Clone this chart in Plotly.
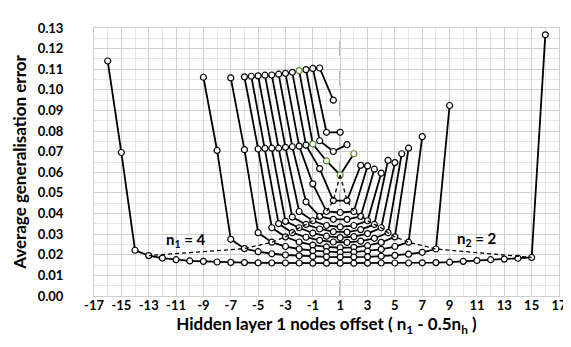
import plotly.graph_objects as go

# Total hidden nodes (nh) for each curve; n1 runs 1..nh-1, x = n1 - 0.5*nh
NH = [3, 4, 5, 6, 7, 8, 9, 10, 11, 12, 13, 14, 16, 20, 34]

ERR = {
    3: [0.1106, 0.0950],
    4: [0.1104, 0.0794, 0.0794],
    5: [0.1098, 0.0753, 0.0701, 0.0734],
    6: [0.1093, 0.0737, 0.0655, 0.0587, 0.0690],
    7: [0.1085, 0.0732, 0.0618, 0.0463, 0.0463, 0.0634],
    8: [0.1080, 0.0727, 0.0544, 0.0410, 0.0405, 0.0410, 0.0631],
    9: [0.1076, 0.0724, 0.0457, 0.0386, 0.0372, 0.0372, 0.0386, 0.0615],
    10: [0.1072, 0.0721, 0.0410, 0.0365, 0.0342, 0.0335, 0.0342, 0.0365, 0.0596],
    11: [0.1071, 0.0717, 0.0383, 0.0347, 0.0325, 0.0312, 0.0310, 0.0322, 0.0347, 0.0658],
    12: [0.1068, 0.0717, 0.0362, 0.0331, 0.0305, 0.0290, 0.0283, 0.0288, 0.0303, 0.0331, 0.0647],
    13: [0.1066, 0.0716, 0.0351, 0.0307, 0.0285, 0.0270, 0.0262, 0.0260, 0.0266, 0.0280, 0.0307, 0.0690],
    14: [0.1063, 0.0713, 0.0331, 0.0287, 0.0262, 0.0247, 0.0238, 0.0234, 0.0236, 0.0244, 0.0260, 0.0287, 0.0717],
    16: [0.1058, 0.0710, 0.0307, 0.0261, 0.0240, 0.0228, 0.0220, 0.0215, 0.0212, 0.0213, 0.0218, 0.0226,
         0.0240, 0.0261, 0.0773],
    20: [0.1061, 0.0706, 0.0275, 0.0230, 0.0215, 0.0205, 0.0199, 0.0195, 0.0192, 0.0190, 0.0189, 0.0189,
         0.0190, 0.0193, 0.0197, 0.0203, 0.0212, 0.0228, 0.0924],
    34: [0.1140, 0.0696, 0.0222, 0.0196,
         0.0184, 0.0176, 0.0170, 0.0168, 0.0165, 0.0163, 0.0162, 0.0161, 0.0160, 0.0160, 0.0160, 0.0159,
         0.0159, 0.0159, 0.0159, 0.0159, 0.0160, 0.0160, 0.0160, 0.0161, 0.0162, 0.0164, 0.0168, 0.0172,
         0.0176, 0.0179, 0.0183,
         0.0187, 0.1267],
}

HIGHLIGHT_NH = 6          # curve drawn with green marker outlines
N1_FIXED = 4              # dashed line: n1 = 4
N2_FIXED = 2              # dashed line: n2 = 2
REF_X = 1                 # vertical dashed reference line
X_TICKS = list(range(-17, 18, 2))
Y_TICKS = [i / 100 for i in range(0, 14)]

FONT = "Lato"
fig = go.Figure()


def xs_for(nh):
    return [n1 - 0.5 * nh for n1 in range(1, nh)]


# dashed guide lines built from the data
d1x, d1y, d2x, d2y = [], [], [], []
for nh in NH:
    if nh >= 6:
        xs = xs_for(nh)
        ys = ERR[nh]
        d1x.append(xs[N1_FIXED - 1]); d1y.append(ys[N1_FIXED - 1])
        i2 = (nh - N2_FIXED) - 1
        d2x.append(xs[i2]); d2y.append(ys[i2])

fig.add_shape(type="line", x0=REF_X, x1=REF_X, y0=0, y1=1, xref="x", yref="paper",
              line=dict(color="#8c8c8c", width=1.6, dash="longdash"), layer="below")

for nh in NH:
    mcol = "#5b8c2a" if nh == HIGHLIGHT_NH else "black"
    fig.add_trace(go.Scatter(
        x=xs_for(nh), y=ERR[nh], mode="lines+markers",
        line=dict(color="black", width=1.8),
        marker=dict(symbol="circle", size=6, color="white",
                    line=dict(color=mcol, width=1.2)),
        name=f"nh={nh}", showlegend=False))

for dx, dy in ((d1x, d1y), (d2x, d2y)):
    fig.add_trace(go.Scatter(x=dx, y=dy, mode="lines",
                             line=dict(color="black", width=1.3, dash="4px,3px"),
                             hoverinfo="skip", showlegend=False))

fig.add_annotation(x=-10.3, y=0.0272, text="n<sub>1</sub> = 4", showarrow=False,
                   font=dict(family=FONT, size=15, color="black", weight="bold"))
fig.add_annotation(x=11.0, y=0.0277, text="n<sub>2</sub> = 2", showarrow=False,
                   font=dict(family=FONT, size=15, color="black", weight="bold"))

fig.update_layout(
    width=571, height=347,
    margin=dict(l=85, r=15, t=14, b=59),
    paper_bgcolor="white", plot_bgcolor="white",
    font=dict(family=FONT, color="black"),
    xaxis=dict(range=[-17, 17], tickvals=X_TICKS, ticktext=[f"<b>{v}</b>" for v in X_TICKS],
               showgrid=True, gridcolor="#d0d0d0", gridwidth=1,
               minor=dict(dtick=1, showgrid=True, gridcolor="#e6e6e6", gridwidth=1),
               zeroline=False, showline=True, linecolor="#d0d0d0", mirror=True,
               ticks="", ticklabelstandoff=-3,
               tickfont=dict(family=FONT, size=13, color="black", weight="bold"),
               title=dict(text="Hidden layer 1 nodes offset ( n<sub>1</sub> - 0.5n<sub>h</sub> )",
                          font=dict(family=FONT, size=17, color="black", weight="bold"),
                          standoff=6)),
    yaxis=dict(range=[0, 0.13], tickvals=Y_TICKS, tickformat=".2f",
               showgrid=True, gridcolor="#d0d0d0", gridwidth=1,
               minor=dict(dtick=0.005, showgrid=True, gridcolor="#e6e6e6", gridwidth=1),
               zeroline=False, showline=True, linecolor="#d0d0d0", mirror=True,
               ticks="", ticklabelstandoff=27,
               tickfont=dict(family=FONT, size=13, color="black", weight="bold"),
               title=dict(text="Average generalisation error",
                          font=dict(family=FONT, size=17, color="black", weight="bold"),
                          standoff=6)),
)

fig.write_html("out.html")
